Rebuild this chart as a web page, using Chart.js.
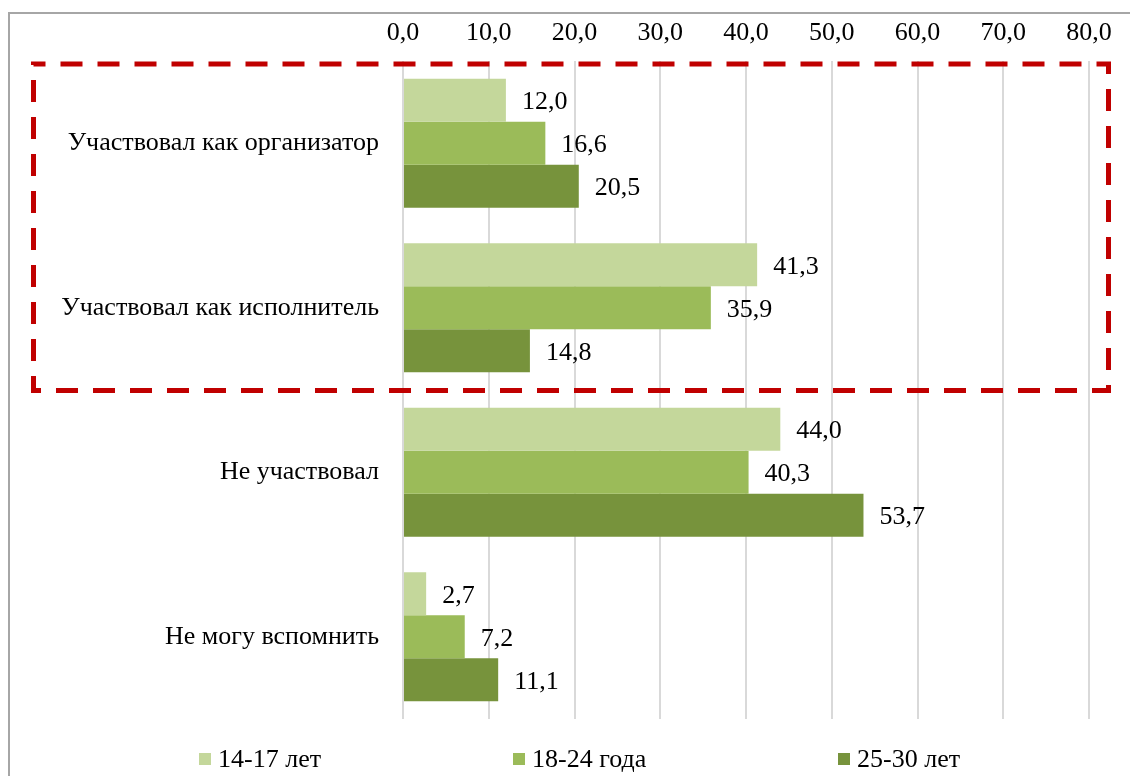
<!DOCTYPE html>
<html>
<head>
<meta charset="utf-8">
<script src="https://cdn.jsdelivr.net/npm/chart.js@4.4.1/dist/chart.umd.min.js"></script>
<style>
    html, body { margin: 0; padding: 0; background: #fff; }
    #wrap { position: relative; width: 1130px; height: 776px; overflow: hidden; }
    #frame { position: absolute; left: 8px; top: 12px; width: 1300px; height: 900px; border: 2px solid #a6a6a6; box-sizing: border-box; }
    #chart { position: absolute; left: 0; top: 0; }
    .leg { position: absolute; top: 743px; font: 26px "Liberation Serif", "Times New Roman", serif; color: #000; white-space: nowrap; line-height: 32px; }
    .leg i { display: inline-block; width: 12px; height: 12px; margin-right: 7px; vertical-align: 2px; }
</style>
</head>
<body>
<div id="wrap">
    <div id="frame"></div>
    <canvas id="chart" width="1130" height="776"></canvas>
    <div id="legend"></div>
</div>
<script>
// Категории и значения (%)
const categories = ['Участвовал как организатор', 'Участвовал как исполнитель', 'Не участвовал', 'Не могу вспомнить'];
const seriesNames = ['14-17 лет', '18-24 года', '25-30 лет'];
const values1417 = [12.0, 41.3, 44.0, 2.7];
const values1824 = [16.6, 35.9, 40.3, 7.2];
const values2530 = [20.5, 14.8, 53.7, 11.1];
const seriesColors = ['#c4d79b', '#9bbb59', '#77933c'];
const xTicks = [0, 10, 20, 30, 40, 50, 60, 70, 80];

const FONT = '"Liberation Serif", "Times New Roman", serif';
const FONT_SIZE = 26;
const fmt = v => v.toFixed(1).replace('.', ',');

// Подписи значений справа от столбиков
const valueLabels = {
    id: 'valueLabels',
    afterDatasetsDraw(chart) {
        const ctx = chart.ctx;
        ctx.save();
        ctx.font = FONT_SIZE + 'px ' + FONT;
        ctx.fillStyle = '#000';
        ctx.textAlign = 'left';
        ctx.textBaseline = 'middle';
        chart.data.datasets.forEach((ds, i) => {
            chart.getDatasetMeta(i).data.forEach((bar, j) => {
                ctx.fillText(fmt(ds.data[j]), bar.x + 16, bar.y + 2);
            });
        });
        ctx.restore();
    }
};

// Красная пунктирная рамка вокруг первых двух категорий
const dashedFrame = {
    id: 'dashedFrame',
    afterDraw(chart) {
        const y = chart.scales.y;
        const area = chart.chartArea;
        const step = y.getPixelForValue(1) - y.getPixelForValue(0);
        const top = y.getPixelForValue(0) - step / 2 + 3;
        const bottom = y.getPixelForValue(1) + step / 2 + 0.5;
        const left = 33.5;
        const right = area.right + 19.5;
        const ctx = chart.ctx;
        ctx.save();
        ctx.strokeStyle = '#c00000';
        ctx.lineWidth = 5;
        ctx.setLineDash([22, 15]);
        ctx.lineDashOffset = 10;
        ctx.strokeRect(left, top, right - left, bottom - top);
        ctx.restore();
    }
};

new Chart(document.getElementById('chart'), {
    type: 'bar',
    data: {
        labels: categories,
        datasets: [
            { label: seriesNames[0], data: values1417, backgroundColor: seriesColors[0] },
            { label: seriesNames[1], data: values1824, backgroundColor: seriesColors[1] },
            { label: seriesNames[2], data: values2530, backgroundColor: seriesColors[2] }
        ]
    },
    options: {
        indexAxis: 'y',
        responsive: false,
        animation: false,
        categoryPercentage: 0.785,
        barPercentage: 1.0,
        layout: { padding: { left: 0, right: 41, top: 0, bottom: 57 } },
        plugins: {
            legend: { display: false },
            tooltip: { enabled: false }
        },
        scales: {
            x: {
                position: 'top',
                min: 0,
                max: 80,
                afterBuildTicks: s => { s.ticks = xTicks.map(v => ({ value: v })); },
                afterFit: s => { s.height = 61; },
                border: { display: false },
                grid: { color: '#d9d9d9', lineWidth: 2, drawTicks: false },
                ticks: {
                    padding: 12,
                    maxRotation: 0,
                    color: '#000',
                    font: { family: FONT, size: FONT_SIZE },
                    callback: v => fmt(v)
                }
            },
            y: {
                afterFit: s => { s.width = 403; },
                border: { display: false },
                grid: { display: false, drawTicks: false },
                ticks: {
                    padding: 24,
                    color: '#000',
                    font: { family: FONT, size: FONT_SIZE }
                }
            }
        }
    },
    plugins: [valueLabels, dashedFrame]
});

// Легенда внизу
const legendPos = [199, 513, 838];
const legend = document.getElementById('legend');
seriesNames.forEach((name, i) => {
    const el = document.createElement('div');
    el.className = 'leg';
    el.style.left = legendPos[i] + 'px';
    el.innerHTML = `<i style="background:${seriesColors[i]}"></i>${name}`;
    legend.appendChild(el);
});
</script>
</body>
</html>
